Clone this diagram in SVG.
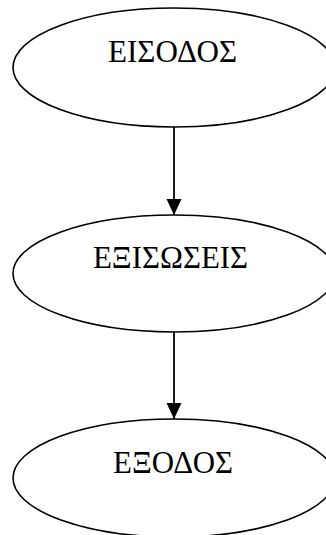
<svg xmlns="http://www.w3.org/2000/svg" width="326" height="535" viewBox="0 0 326 535">
<style>
.node ellipse{fill:#fff;stroke:#000;stroke-width:1.6}
.node text{font-family:"Liberation Serif","Times New Roman",serif;font-size:30.5px;fill:#000;text-anchor:middle}
.edge{stroke:#000;stroke-width:1.8;fill:none}
</style>
<defs>
<marker id="arr" markerUnits="userSpaceOnUse" markerWidth="16" markerHeight="16" refX="16" refY="8" orient="auto" viewBox="0 0 16 16">
<path d="M0,0.5 L16,8 L0,15.5 Z" fill="#000"/>
</marker>
</defs>
<rect width="326" height="535" fill="#fff"/>
<g id="connectors">
<line class="edge" x1="174" y1="127" x2="174" y2="215" marker-end="url(#arr)"/>
<line class="edge" x1="174" y1="332" x2="174" y2="419" marker-end="url(#arr)"/>
</g>
<g id="n1" class="node">
<ellipse cx="174" cy="67.5" rx="161" ry="59.5"/>
<text x="172.5" y="61.5" textLength="129" lengthAdjust="spacingAndGlyphs">ΕΙΣΟΔΟΣ</text>
</g>
<g id="n2" class="node">
<ellipse cx="174" cy="273.5" rx="161" ry="58.5"/>
<text x="170.5" y="267.5" textLength="155" lengthAdjust="spacingAndGlyphs">ΕΞΙΣΩΣΕΙΣ</text>
</g>
<g id="n3" class="node">
<ellipse cx="174" cy="478" rx="161" ry="59"/>
<text x="173" y="472.5" textLength="120" lengthAdjust="spacingAndGlyphs">ΕΞΟΔΟΣ</text>
</g>
</svg>
